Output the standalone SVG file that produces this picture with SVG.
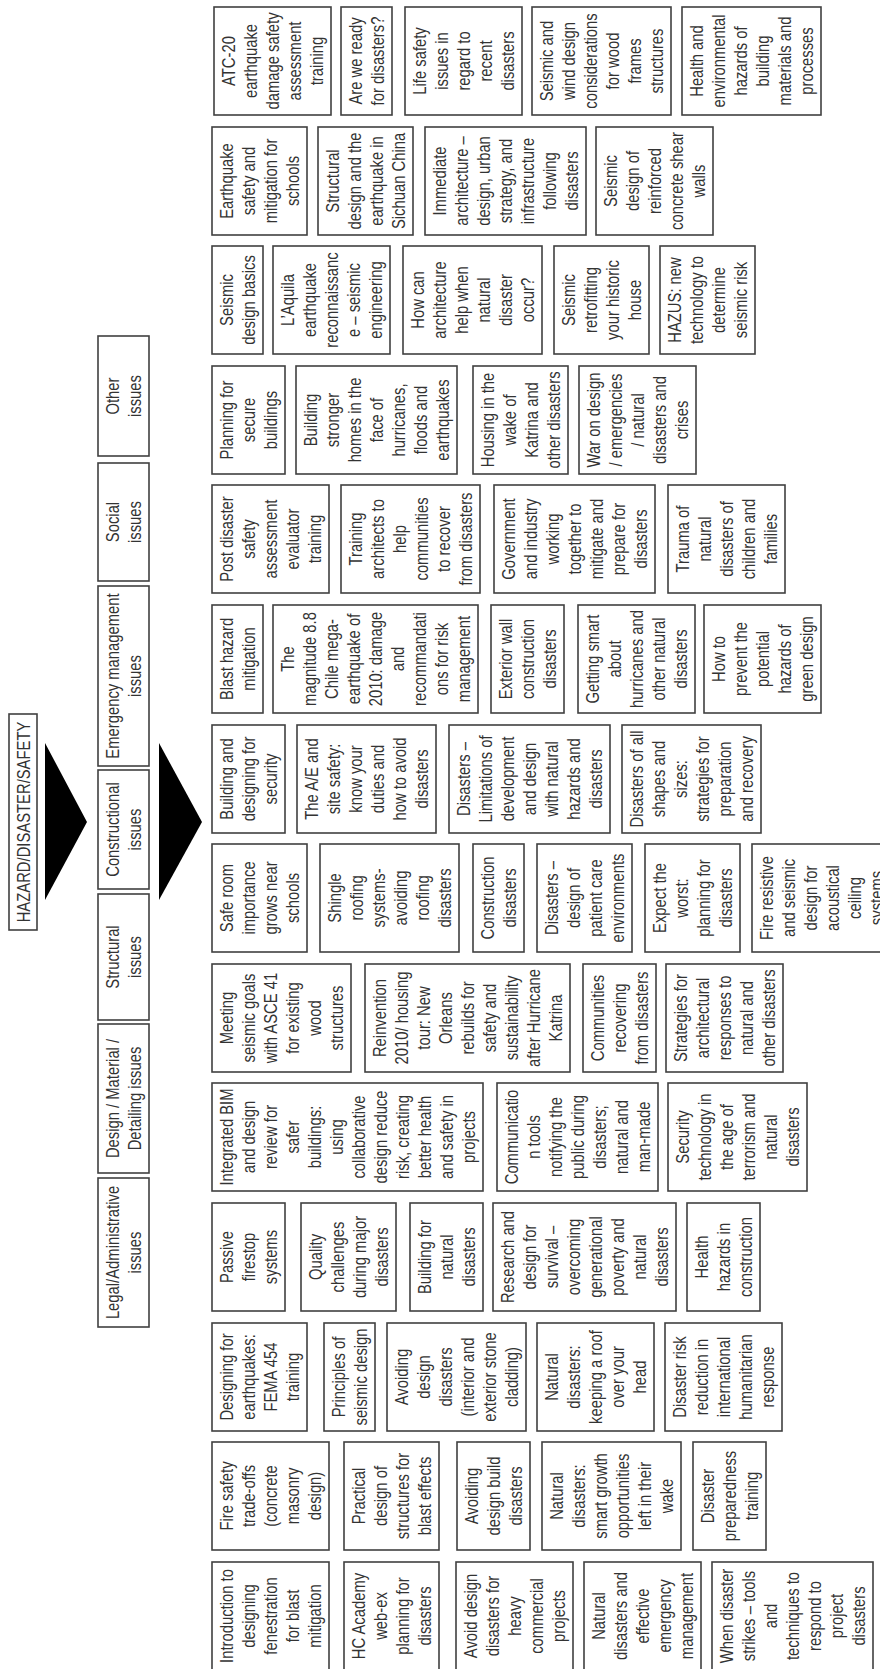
<svg xmlns="http://www.w3.org/2000/svg" width="880" height="1669" viewBox="0 0 880 1669">
<style>
.b{fill:#fff;stroke:#404040;stroke-width:1.6}
.t{font-family:"Liberation Sans",Arial,sans-serif;font-size:18.5px;fill:#333;text-anchor:middle}
.arrow{fill:#000}
</style>
<rect width="880" height="1669" fill="#fff"/>

<!-- root -->
<g id="root">
<rect class="b" x="9" y="714" width="28" height="216"/>
<text class="t" transform="matrix(0,-0.8,1,0,23,822)"><tspan x="0" y="6.5">HAZARD/DISASTER/SAFETY</tspan></text>
</g>

<!-- arrows between levels -->
<g id="connectors">
<polygon class="arrow" points="45,743 87,822 45,900"/>
<polygon class="arrow" points="159,743 202,822 159,900"/>
</g>

<!-- category nodes -->
<g id="cat-legal"><rect class="b" x="98" y="1178" width="51" height="149"/>
<text class="t" transform="matrix(0,-0.8,1,0,123.5,1252.5)"><tspan x="0" y="-4.5">Legal/Administrative</tspan><tspan x="0" y="17.5">issues</tspan></text></g>
<g id="cat-design"><rect class="b" x="98" y="1024" width="51" height="149"/>
<text class="t" transform="matrix(0,-0.8,1,0,123.5,1098.5)"><tspan x="0" y="-4.5">Design / Material /</tspan><tspan x="0" y="17.5">Detailing issues</tspan></text></g>
<g id="cat-structural"><rect class="b" x="98" y="894" width="51" height="126"/>
<text class="t" transform="matrix(0,-0.8,1,0,123.5,957)"><tspan x="0" y="-4.5">Structural</tspan><tspan x="0" y="17.5">issues</tspan></text></g>
<g id="cat-constructional"><rect class="b" x="98" y="770" width="51" height="119"/>
<text class="t" transform="matrix(0,-0.8,1,0,123.5,829.5)"><tspan x="0" y="-4.5">Constructional</tspan><tspan x="0" y="17.5">issues</tspan></text></g>
<g id="cat-emergency"><rect class="b" x="98" y="586" width="51" height="180"/>
<text class="t" transform="matrix(0,-0.8,1,0,123.5,676)"><tspan x="0" y="-4.5">Emergency management</tspan><tspan x="0" y="17.5">issues</tspan></text></g>
<g id="cat-social"><rect class="b" x="98" y="463" width="51" height="118"/>
<text class="t" transform="matrix(0,-0.8,1,0,123.5,522)"><tspan x="0" y="-4.5">Social</tspan><tspan x="0" y="17.5">issues</tspan></text></g>
<g id="cat-other"><rect class="b" x="98" y="336" width="51" height="120"/>
<text class="t" transform="matrix(0,-0.8,1,0,123.5,396)"><tspan x="0" y="-4.5">Other</tspan><tspan x="0" y="17.5">issues</tspan></text></g>

<!-- topic nodes, band 0 -->
<g id="n0a"><rect class="b" x="214" y="7" width="117" height="108"/>
<text class="t" transform="matrix(0,-0.8,1,0,272.5,61)"><tspan x="0" y="-37.5">ATC-20</tspan><tspan x="0" y="-15.5">earthquake</tspan><tspan x="0" y="6.5">damage safety</tspan><tspan x="0" y="28.5">assessment</tspan><tspan x="0" y="50.5">training</tspan></text></g>
<g id="n0b"><rect class="b" x="341" y="7" width="51" height="108"/>
<text class="t" transform="matrix(0,-0.8,1,0,366.5,61)"><tspan x="0" y="-4.5">Are we ready</tspan><tspan x="0" y="17.5">for disasters?</tspan></text></g>
<g id="n0c"><rect class="b" x="405" y="7" width="117" height="108"/>
<text class="t" transform="matrix(0,-0.8,1,0,463.5,61)"><tspan x="0" y="-37.5">Life safety</tspan><tspan x="0" y="-15.5">issues in</tspan><tspan x="0" y="6.5">regard to</tspan><tspan x="0" y="28.5">recent</tspan><tspan x="0" y="50.5">disasters</tspan></text></g>
<g id="n0d"><rect class="b" x="532" y="7" width="139" height="108"/>
<text class="t" transform="matrix(0,-0.8,1,0,601.5,61)"><tspan x="0" y="-48.5">Seismic and</tspan><tspan x="0" y="-26.5">wind design</tspan><tspan x="0" y="-4.5">considerations</tspan><tspan x="0" y="17.5">for wood</tspan><tspan x="0" y="39.5">frames</tspan><tspan x="0" y="61.5">structures</tspan></text></g>
<g id="n0e"><rect class="b" x="682" y="7" width="139" height="108"/>
<text class="t" transform="matrix(0,-0.8,1,0,751.5,61)"><tspan x="0" y="-48.5">Health and</tspan><tspan x="0" y="-26.5">environmental</tspan><tspan x="0" y="-4.5">hazards of</tspan><tspan x="0" y="17.5">building</tspan><tspan x="0" y="39.5">materials and</tspan><tspan x="0" y="61.5">processes</tspan></text></g>

<!-- band 1 -->
<g id="n1a"><rect class="b" x="212" y="127" width="95" height="108"/>
<text class="t" transform="matrix(0,-0.8,1,0,259.5,181)"><tspan x="0" y="-26.5">Earthquake</tspan><tspan x="0" y="-4.5">safety and</tspan><tspan x="0" y="17.5">mitigation for</tspan><tspan x="0" y="39.5">schools</tspan></text></g>
<g id="n1b"><rect class="b" x="318" y="127" width="95" height="108"/>
<text class="t" transform="matrix(0,-0.8,1,0,365.5,181)"><tspan x="0" y="-26.5">Structural</tspan><tspan x="0" y="-4.5">design and the</tspan><tspan x="0" y="17.5">earthquake in</tspan><tspan x="0" y="39.5">Sichuan China</tspan></text></g>
<g id="n1c"><rect class="b" x="425" y="127" width="161" height="108"/>
<text class="t" transform="matrix(0,-0.8,1,0,505.5,181)"><tspan x="0" y="-59.5">Immediate</tspan><tspan x="0" y="-37.5">architecture –</tspan><tspan x="0" y="-15.5">design, urban</tspan><tspan x="0" y="6.5">strategy, and</tspan><tspan x="0" y="28.5">infrastructure</tspan><tspan x="0" y="50.5">following</tspan><tspan x="0" y="72.5">disasters</tspan></text></g>
<g id="n1d"><rect class="b" x="596" y="127" width="117" height="108"/>
<text class="t" transform="matrix(0,-0.8,1,0,654.5,181)"><tspan x="0" y="-37.5">Seismic</tspan><tspan x="0" y="-15.5">design of</tspan><tspan x="0" y="6.5">reinforced</tspan><tspan x="0" y="28.5">concrete shear</tspan><tspan x="0" y="50.5">walls</tspan></text></g>

<!-- band 2 -->
<g id="n2a"><rect class="b" x="212" y="246" width="51" height="108"/>
<text class="t" transform="matrix(0,-0.8,1,0,237.5,300)"><tspan x="0" y="-4.5">Seismic</tspan><tspan x="0" y="17.5">design basics</tspan></text></g>
<g id="n2b"><rect class="b" x="273" y="246" width="117" height="108"/>
<text class="t" transform="matrix(0,-0.8,1,0,331.5,300)"><tspan x="0" y="-37.5">L’Aquila</tspan><tspan x="0" y="-15.5">earthquake</tspan><tspan x="0" y="6.5">reconnaissanc</tspan><tspan x="0" y="28.5">e – seismic</tspan><tspan x="0" y="50.5">engineering</tspan></text></g>
<g id="n2c"><rect class="b" x="403" y="246" width="139" height="108"/>
<text class="t" transform="matrix(0,-0.8,1,0,472.5,300)"><tspan x="0" y="-48.5">How can</tspan><tspan x="0" y="-26.5">architecture</tspan><tspan x="0" y="-4.5">help when</tspan><tspan x="0" y="17.5">natural</tspan><tspan x="0" y="39.5">disaster</tspan><tspan x="0" y="61.5">occur?</tspan></text></g>
<g id="n2d"><rect class="b" x="554" y="246" width="95" height="108"/>
<text class="t" transform="matrix(0,-0.8,1,0,601.5,300)"><tspan x="0" y="-26.5">Seismic</tspan><tspan x="0" y="-4.5">retrofitting</tspan><tspan x="0" y="17.5">your historic</tspan><tspan x="0" y="39.5">house</tspan></text></g>
<g id="n2e"><rect class="b" x="660" y="246" width="95" height="108"/>
<text class="t" transform="matrix(0,-0.8,1,0,707.5,300)"><tspan x="0" y="-26.5">HAZUS: new</tspan><tspan x="0" y="-4.5">technology to</tspan><tspan x="0" y="17.5">determine</tspan><tspan x="0" y="39.5">seismic risk</tspan></text></g>

<!-- band 3 -->
<g id="n3a"><rect class="b" x="212" y="366" width="73" height="108"/>
<text class="t" transform="matrix(0,-0.8,1,0,248.5,420)"><tspan x="0" y="-15.5">Planning for</tspan><tspan x="0" y="6.5">secure</tspan><tspan x="0" y="28.5">buildings</tspan></text></g>
<g id="n3b"><rect class="b" x="296" y="366" width="161" height="108"/>
<text class="t" transform="matrix(0,-0.8,1,0,376.5,420)"><tspan x="0" y="-59.5">Building</tspan><tspan x="0" y="-37.5">stronger</tspan><tspan x="0" y="-15.5">homes in the</tspan><tspan x="0" y="6.5">face of</tspan><tspan x="0" y="28.5">hurricanes,</tspan><tspan x="0" y="50.5">floods and</tspan><tspan x="0" y="72.5">earthquakes</tspan></text></g>
<g id="n3c"><rect class="b" x="473" y="366" width="95" height="108"/>
<text class="t" transform="matrix(0,-0.8,1,0,520.5,420)"><tspan x="0" y="-26.5">Housing in the</tspan><tspan x="0" y="-4.5">wake of</tspan><tspan x="0" y="17.5">Katrina and</tspan><tspan x="0" y="39.5">other disasters</tspan></text></g>
<g id="n3d"><rect class="b" x="579" y="366" width="117" height="108"/>
<text class="t" transform="matrix(0,-0.8,1,0,637.5,420)"><tspan x="0" y="-37.5">War on design</tspan><tspan x="0" y="-15.5">/ emergencies</tspan><tspan x="0" y="6.5">/ natural</tspan><tspan x="0" y="28.5">disasters and</tspan><tspan x="0" y="50.5">crises</tspan></text></g>

<!-- band 4 -->
<g id="n4a"><rect class="b" x="212" y="485" width="117" height="108"/>
<text class="t" transform="matrix(0,-0.8,1,0,270.5,539)"><tspan x="0" y="-37.5">Post disaster</tspan><tspan x="0" y="-15.5">safety</tspan><tspan x="0" y="6.5">assessment</tspan><tspan x="0" y="28.5">evaluator</tspan><tspan x="0" y="50.5">training</tspan></text></g>
<g id="n4b"><rect class="b" x="341" y="485" width="139" height="108"/>
<text class="t" transform="matrix(0,-0.8,1,0,410.5,539)"><tspan x="0" y="-48.5">Training</tspan><tspan x="0" y="-26.5">architects to</tspan><tspan x="0" y="-4.5">help</tspan><tspan x="0" y="17.5">communities</tspan><tspan x="0" y="39.5">to recover</tspan><tspan x="0" y="61.5">from disasters</tspan></text></g>
<g id="n4c"><rect class="b" x="494" y="485" width="161" height="108"/>
<text class="t" transform="matrix(0,-0.8,1,0,574.5,539)"><tspan x="0" y="-59.5">Government</tspan><tspan x="0" y="-37.5">and industry</tspan><tspan x="0" y="-15.5">working</tspan><tspan x="0" y="6.5">together to</tspan><tspan x="0" y="28.5">mitigate and</tspan><tspan x="0" y="50.5">prepare for</tspan><tspan x="0" y="72.5">disasters</tspan></text></g>
<g id="n4d"><rect class="b" x="668" y="485" width="117" height="108"/>
<text class="t" transform="matrix(0,-0.8,1,0,726.5,539)"><tspan x="0" y="-37.5">Trauma of</tspan><tspan x="0" y="-15.5">natural</tspan><tspan x="0" y="6.5">disasters of</tspan><tspan x="0" y="28.5">children and</tspan><tspan x="0" y="50.5">families</tspan></text></g>

<!-- band 5 -->
<g id="n5a"><rect class="b" x="212" y="605" width="51" height="108"/>
<text class="t" transform="matrix(0,-0.8,1,0,237.5,659)"><tspan x="0" y="-4.5">Blast hazard</tspan><tspan x="0" y="17.5">mitigation</tspan></text></g>
<g id="n5b"><rect class="b" x="273" y="605" width="205" height="108"/>
<text class="t" transform="matrix(0,-0.8,1,0,375.5,659)"><tspan x="0" y="-81.5">The</tspan><tspan x="0" y="-59.5">magnitude 8.8</tspan><tspan x="0" y="-37.5">Chile mega-</tspan><tspan x="0" y="-15.5">earthquake of</tspan><tspan x="0" y="6.5">2010: damage</tspan><tspan x="0" y="28.5">and</tspan><tspan x="0" y="50.5">recommandati</tspan><tspan x="0" y="72.5">ons for risk</tspan><tspan x="0" y="94.5">management</tspan></text></g>
<g id="n5c"><rect class="b" x="491" y="605" width="73" height="108"/>
<text class="t" transform="matrix(0,-0.8,1,0,527.5,659)"><tspan x="0" y="-15.5">Exterior wall</tspan><tspan x="0" y="6.5">construction</tspan><tspan x="0" y="28.5">disasters</tspan></text></g>
<g id="n5d"><rect class="b" x="578" y="605" width="117" height="108"/>
<text class="t" transform="matrix(0,-0.8,1,0,636.5,659)"><tspan x="0" y="-37.5">Getting smart</tspan><tspan x="0" y="-15.5">about</tspan><tspan x="0" y="6.5">hurricanes and</tspan><tspan x="0" y="28.5">other natural</tspan><tspan x="0" y="50.5">disasters</tspan></text></g>
<g id="n5e"><rect class="b" x="704" y="605" width="117" height="108"/>
<text class="t" transform="matrix(0,-0.8,1,0,762.5,659)"><tspan x="0" y="-37.5">How to</tspan><tspan x="0" y="-15.5">prevent the</tspan><tspan x="0" y="6.5">potential</tspan><tspan x="0" y="28.5">hazards of</tspan><tspan x="0" y="50.5">green design</tspan></text></g>

<!-- band 6 -->
<g id="n6a"><rect class="b" x="212" y="725" width="73" height="108"/>
<text class="t" transform="matrix(0,-0.8,1,0,248.5,779)"><tspan x="0" y="-15.5">Building and</tspan><tspan x="0" y="6.5">designing for</tspan><tspan x="0" y="28.5">security</tspan></text></g>
<g id="n6b"><rect class="b" x="297" y="725" width="139" height="108"/>
<text class="t" transform="matrix(0,-0.8,1,0,366.5,779)"><tspan x="0" y="-48.5">The A/E and</tspan><tspan x="0" y="-26.5">site safety:</tspan><tspan x="0" y="-4.5">know your</tspan><tspan x="0" y="17.5">duties and</tspan><tspan x="0" y="39.5">how to avoid</tspan><tspan x="0" y="61.5">disasters</tspan></text></g>
<g id="n6c"><rect class="b" x="449" y="725" width="161" height="108"/>
<text class="t" transform="matrix(0,-0.8,1,0,529.5,779)"><tspan x="0" y="-59.5">Disasters –</tspan><tspan x="0" y="-37.5">Limitations of</tspan><tspan x="0" y="-15.5">development</tspan><tspan x="0" y="6.5">and design</tspan><tspan x="0" y="28.5">with natural</tspan><tspan x="0" y="50.5">hazards and</tspan><tspan x="0" y="72.5">disasters</tspan></text></g>
<g id="n6d"><rect class="b" x="622" y="725" width="139" height="108"/>
<text class="t" transform="matrix(0,-0.8,1,0,691.5,779)"><tspan x="0" y="-48.5">Disasters of all</tspan><tspan x="0" y="-26.5">shapes and</tspan><tspan x="0" y="-4.5">sizes:</tspan><tspan x="0" y="17.5">strategies for</tspan><tspan x="0" y="39.5">preparation</tspan><tspan x="0" y="61.5">and recovery</tspan></text></g>

<!-- band 7 -->
<g id="n7a"><rect class="b" x="212" y="844" width="95" height="108"/>
<text class="t" transform="matrix(0,-0.8,1,0,259.5,898)"><tspan x="0" y="-26.5">Safe room</tspan><tspan x="0" y="-4.5">importance</tspan><tspan x="0" y="17.5">grows near</tspan><tspan x="0" y="39.5">schools</tspan></text></g>
<g id="n7b"><rect class="b" x="320" y="844" width="139" height="108"/>
<text class="t" transform="matrix(0,-0.8,1,0,389.5,898)"><tspan x="0" y="-48.5">Shingle</tspan><tspan x="0" y="-26.5">roofing</tspan><tspan x="0" y="-4.5">systems-</tspan><tspan x="0" y="17.5">avoiding</tspan><tspan x="0" y="39.5">roofing</tspan><tspan x="0" y="61.5">disasters</tspan></text></g>
<g id="n7c"><rect class="b" x="473" y="844" width="51" height="108"/>
<text class="t" transform="matrix(0,-0.8,1,0,498.5,898)"><tspan x="0" y="-4.5">Construction</tspan><tspan x="0" y="17.5">disasters</tspan></text></g>
<g id="n7d"><rect class="b" x="537" y="844" width="95" height="108"/>
<text class="t" transform="matrix(0,-0.8,1,0,584.5,898)"><tspan x="0" y="-26.5">Disasters –</tspan><tspan x="0" y="-4.5">design of</tspan><tspan x="0" y="17.5">patient care</tspan><tspan x="0" y="39.5">environments</tspan></text></g>
<g id="n7e"><rect class="b" x="645" y="844" width="95" height="108"/>
<text class="t" transform="matrix(0,-0.8,1,0,692.5,898)"><tspan x="0" y="-26.5">Expect the</tspan><tspan x="0" y="-4.5">worst:</tspan><tspan x="0" y="17.5">planning for</tspan><tspan x="0" y="39.5">disasters</tspan></text></g>
<g id="n7f"><rect class="b" x="752" y="844" width="139" height="108"/>
<text class="t" transform="matrix(0,-0.8,1,0,821.5,898)"><tspan x="0" y="-48.5">Fire resistive</tspan><tspan x="0" y="-26.5">and seismic</tspan><tspan x="0" y="-4.5">design for</tspan><tspan x="0" y="17.5">acoustical</tspan><tspan x="0" y="39.5">ceiling</tspan><tspan x="0" y="61.5">systems</tspan></text></g>

<!-- band 8 -->
<g id="n8a"><rect class="b" x="212" y="964" width="139" height="108"/>
<text class="t" transform="matrix(0,-0.8,1,0,281.5,1018)"><tspan x="0" y="-48.5">Meeting</tspan><tspan x="0" y="-26.5">seismic goals</tspan><tspan x="0" y="-4.5">with ASCE 41</tspan><tspan x="0" y="17.5">for existing</tspan><tspan x="0" y="39.5">wood</tspan><tspan x="0" y="61.5">structures</tspan></text></g>
<g id="n8b"><rect class="b" x="365" y="964" width="205" height="108"/>
<text class="t" transform="matrix(0,-0.8,1,0,467.5,1018)"><tspan x="0" y="-81.5">Reinvention</tspan><tspan x="0" y="-59.5">2010/ housing</tspan><tspan x="0" y="-37.5">tour: New</tspan><tspan x="0" y="-15.5">Orleans</tspan><tspan x="0" y="6.5">rebuilds for</tspan><tspan x="0" y="28.5">safety and</tspan><tspan x="0" y="50.5">sustainability</tspan><tspan x="0" y="72.5">after Hurricane</tspan><tspan x="0" y="94.5">Katrina</tspan></text></g>
<g id="n8c"><rect class="b" x="583" y="964" width="73" height="108"/>
<text class="t" transform="matrix(0,-0.8,1,0,619.5,1018)"><tspan x="0" y="-15.5">Communities</tspan><tspan x="0" y="6.5">recovering</tspan><tspan x="0" y="28.5">from disasters</tspan></text></g>
<g id="n8d"><rect class="b" x="666" y="964" width="117" height="108"/>
<text class="t" transform="matrix(0,-0.8,1,0,724.5,1018)"><tspan x="0" y="-37.5">Strategies for</tspan><tspan x="0" y="-15.5">architectural</tspan><tspan x="0" y="6.5">responses to</tspan><tspan x="0" y="28.5">natural and</tspan><tspan x="0" y="50.5">other disasters</tspan></text></g>

<!-- band 9 -->
<g id="n9a"><rect class="b" x="212" y="1083" width="271" height="108"/>
<text class="t" transform="matrix(0,-0.8,1,0,347.5,1137)"><tspan x="0" y="-114.5">Integrated BIM</tspan><tspan x="0" y="-92.5">and design</tspan><tspan x="0" y="-70.5">review for</tspan><tspan x="0" y="-48.5">safer</tspan><tspan x="0" y="-26.5">buildings:</tspan><tspan x="0" y="-4.5">using</tspan><tspan x="0" y="17.5">collaborative</tspan><tspan x="0" y="39.5">design reduce</tspan><tspan x="0" y="61.5">risk, creating</tspan><tspan x="0" y="83.5">better health</tspan><tspan x="0" y="105.5">and safety in</tspan><tspan x="0" y="127.5">projects</tspan></text></g>
<g id="n9b"><rect class="b" x="497" y="1083" width="161" height="108"/>
<text class="t" transform="matrix(0,-0.8,1,0,577.5,1137)"><tspan x="0" y="-59.5">Communicatio</tspan><tspan x="0" y="-37.5">n tools</tspan><tspan x="0" y="-15.5">notifying the</tspan><tspan x="0" y="6.5">public during</tspan><tspan x="0" y="28.5">disasters;</tspan><tspan x="0" y="50.5">natural and</tspan><tspan x="0" y="72.5">man-made</tspan></text></g>
<g id="n9c"><rect class="b" x="668" y="1083" width="139" height="108"/>
<text class="t" transform="matrix(0,-0.8,1,0,737.5,1137)"><tspan x="0" y="-48.5">Security</tspan><tspan x="0" y="-26.5">technology in</tspan><tspan x="0" y="-4.5">the age of</tspan><tspan x="0" y="17.5">terrorism and</tspan><tspan x="0" y="39.5">natural</tspan><tspan x="0" y="61.5">disasters</tspan></text></g>

<!-- band 10 -->
<g id="n10a"><rect class="b" x="212" y="1203" width="73" height="108"/>
<text class="t" transform="matrix(0,-0.8,1,0,248.5,1257)"><tspan x="0" y="-15.5">Passive</tspan><tspan x="0" y="6.5">firestop</tspan><tspan x="0" y="28.5">systems</tspan></text></g>
<g id="n10b"><rect class="b" x="301" y="1203" width="95" height="108"/>
<text class="t" transform="matrix(0,-0.8,1,0,348.5,1257)"><tspan x="0" y="-26.5">Quality</tspan><tspan x="0" y="-4.5">challenges</tspan><tspan x="0" y="17.5">during major</tspan><tspan x="0" y="39.5">disasters</tspan></text></g>
<g id="n10c"><rect class="b" x="410" y="1203" width="73" height="108"/>
<text class="t" transform="matrix(0,-0.8,1,0,446.5,1257)"><tspan x="0" y="-15.5">Building for</tspan><tspan x="0" y="6.5">natural</tspan><tspan x="0" y="28.5">disasters</tspan></text></g>
<g id="n10d"><rect class="b" x="493" y="1203" width="183" height="108"/>
<text class="t" transform="matrix(0,-0.8,1,0,584.5,1257)"><tspan x="0" y="-70.5">Research and</tspan><tspan x="0" y="-48.5">design for</tspan><tspan x="0" y="-26.5">survival –</tspan><tspan x="0" y="-4.5">overcoming</tspan><tspan x="0" y="17.5">generational</tspan><tspan x="0" y="39.5">poverty and</tspan><tspan x="0" y="61.5">natural</tspan><tspan x="0" y="83.5">disasters</tspan></text></g>
<g id="n10e"><rect class="b" x="687" y="1203" width="73" height="108"/>
<text class="t" transform="matrix(0,-0.8,1,0,723.5,1257)"><tspan x="0" y="-15.5">Health</tspan><tspan x="0" y="6.5">hazards in</tspan><tspan x="0" y="28.5">construction</tspan></text></g>

<!-- band 11 -->
<g id="n11a"><rect class="b" x="212" y="1323" width="95" height="108"/>
<text class="t" transform="matrix(0,-0.8,1,0,259.5,1377)"><tspan x="0" y="-26.5">Designing for</tspan><tspan x="0" y="-4.5">earthquakes:</tspan><tspan x="0" y="17.5">FEMA 454</tspan><tspan x="0" y="39.5">training</tspan></text></g>
<g id="n11b"><rect class="b" x="324" y="1323" width="51" height="108"/>
<text class="t" transform="matrix(0,-0.8,1,0,349.5,1377)"><tspan x="0" y="-4.5">Principles of</tspan><tspan x="0" y="17.5">seismic design</tspan></text></g>
<g id="n11c"><rect class="b" x="387" y="1323" width="139" height="108"/>
<text class="t" transform="matrix(0,-0.8,1,0,456.5,1377)"><tspan x="0" y="-48.5">Avoiding</tspan><tspan x="0" y="-26.5">design</tspan><tspan x="0" y="-4.5">disasters</tspan><tspan x="0" y="17.5">(interior and</tspan><tspan x="0" y="39.5">exterior stone</tspan><tspan x="0" y="61.5">cladding)</tspan></text></g>
<g id="n11d"><rect class="b" x="537" y="1323" width="117" height="108"/>
<text class="t" transform="matrix(0,-0.8,1,0,595.5,1377)"><tspan x="0" y="-37.5">Natural</tspan><tspan x="0" y="-15.5">disasters:</tspan><tspan x="0" y="6.5">keeping a roof</tspan><tspan x="0" y="28.5">over your</tspan><tspan x="0" y="50.5">head</tspan></text></g>
<g id="n11e"><rect class="b" x="665" y="1323" width="117" height="108"/>
<text class="t" transform="matrix(0,-0.8,1,0,723.5,1377)"><tspan x="0" y="-37.5">Disaster risk</tspan><tspan x="0" y="-15.5">reduction in</tspan><tspan x="0" y="6.5">international</tspan><tspan x="0" y="28.5">humanitarian</tspan><tspan x="0" y="50.5">response</tspan></text></g>

<!-- band 12 -->
<g id="n12a"><rect class="b" x="212" y="1442" width="117" height="108"/>
<text class="t" transform="matrix(0,-0.8,1,0,270.5,1496)"><tspan x="0" y="-37.5">Fire safety</tspan><tspan x="0" y="-15.5">trade-offs</tspan><tspan x="0" y="6.5">(concrete</tspan><tspan x="0" y="28.5">masonry</tspan><tspan x="0" y="50.5">design)</tspan></text></g>
<g id="n12b"><rect class="b" x="344" y="1442" width="95" height="108"/>
<text class="t" transform="matrix(0,-0.8,1,0,391.5,1496)"><tspan x="0" y="-26.5">Practical</tspan><tspan x="0" y="-4.5">design of</tspan><tspan x="0" y="17.5">structures for</tspan><tspan x="0" y="39.5">blast effects</tspan></text></g>
<g id="n12c"><rect class="b" x="457" y="1442" width="73" height="108"/>
<text class="t" transform="matrix(0,-0.8,1,0,493.5,1496)"><tspan x="0" y="-15.5">Avoiding</tspan><tspan x="0" y="6.5">design build</tspan><tspan x="0" y="28.5">disasters</tspan></text></g>
<g id="n12d"><rect class="b" x="542" y="1442" width="139" height="108"/>
<text class="t" transform="matrix(0,-0.8,1,0,611.5,1496)"><tspan x="0" y="-48.5">Natural</tspan><tspan x="0" y="-26.5">disasters:</tspan><tspan x="0" y="-4.5">smart growth</tspan><tspan x="0" y="17.5">opportunities</tspan><tspan x="0" y="39.5">left in their</tspan><tspan x="0" y="61.5">wake</tspan></text></g>
<g id="n12e"><rect class="b" x="693" y="1442" width="73" height="108"/>
<text class="t" transform="matrix(0,-0.8,1,0,729.5,1496)"><tspan x="0" y="-15.5">Disaster</tspan><tspan x="0" y="6.5">preparedness</tspan><tspan x="0" y="28.5">training</tspan></text></g>

<!-- band 13 -->
<g id="n13a"><rect class="b" x="212" y="1562" width="117" height="108"/>
<text class="t" transform="matrix(0,-0.8,1,0,270.5,1616)"><tspan x="0" y="-37.5">Introduction to</tspan><tspan x="0" y="-15.5">designing</tspan><tspan x="0" y="6.5">fenestration</tspan><tspan x="0" y="28.5">for blast</tspan><tspan x="0" y="50.5">mitigation</tspan></text></g>
<g id="n13b"><rect class="b" x="344" y="1562" width="95" height="108"/>
<text class="t" transform="matrix(0,-0.8,1,0,391.5,1616)"><tspan x="0" y="-26.5">HC Academy</tspan><tspan x="0" y="-4.5">web-ex</tspan><tspan x="0" y="17.5">planning for</tspan><tspan x="0" y="39.5">disasters</tspan></text></g>
<g id="n13c"><rect class="b" x="456" y="1562" width="117" height="108"/>
<text class="t" transform="matrix(0,-0.8,1,0,514.5,1616)"><tspan x="0" y="-37.5">Avoid design</tspan><tspan x="0" y="-15.5">disasters for</tspan><tspan x="0" y="6.5">heavy</tspan><tspan x="0" y="28.5">commercial</tspan><tspan x="0" y="50.5">projects</tspan></text></g>
<g id="n13d"><rect class="b" x="584" y="1562" width="117" height="108"/>
<text class="t" transform="matrix(0,-0.8,1,0,642.5,1616)"><tspan x="0" y="-37.5">Natural</tspan><tspan x="0" y="-15.5">disasters and</tspan><tspan x="0" y="6.5">effective</tspan><tspan x="0" y="28.5">emergency</tspan><tspan x="0" y="50.5">management</tspan></text></g>
<g id="n13e"><rect class="b" x="712" y="1562" width="161" height="108"/>
<text class="t" transform="matrix(0,-0.8,1,0,792.5,1616)"><tspan x="0" y="-59.5">When disaster</tspan><tspan x="0" y="-37.5">strikes – tools</tspan><tspan x="0" y="-15.5">and</tspan><tspan x="0" y="6.5">techniques to</tspan><tspan x="0" y="28.5">respond to</tspan><tspan x="0" y="50.5">project</tspan><tspan x="0" y="72.5">disasters</tspan></text></g>
</svg>
